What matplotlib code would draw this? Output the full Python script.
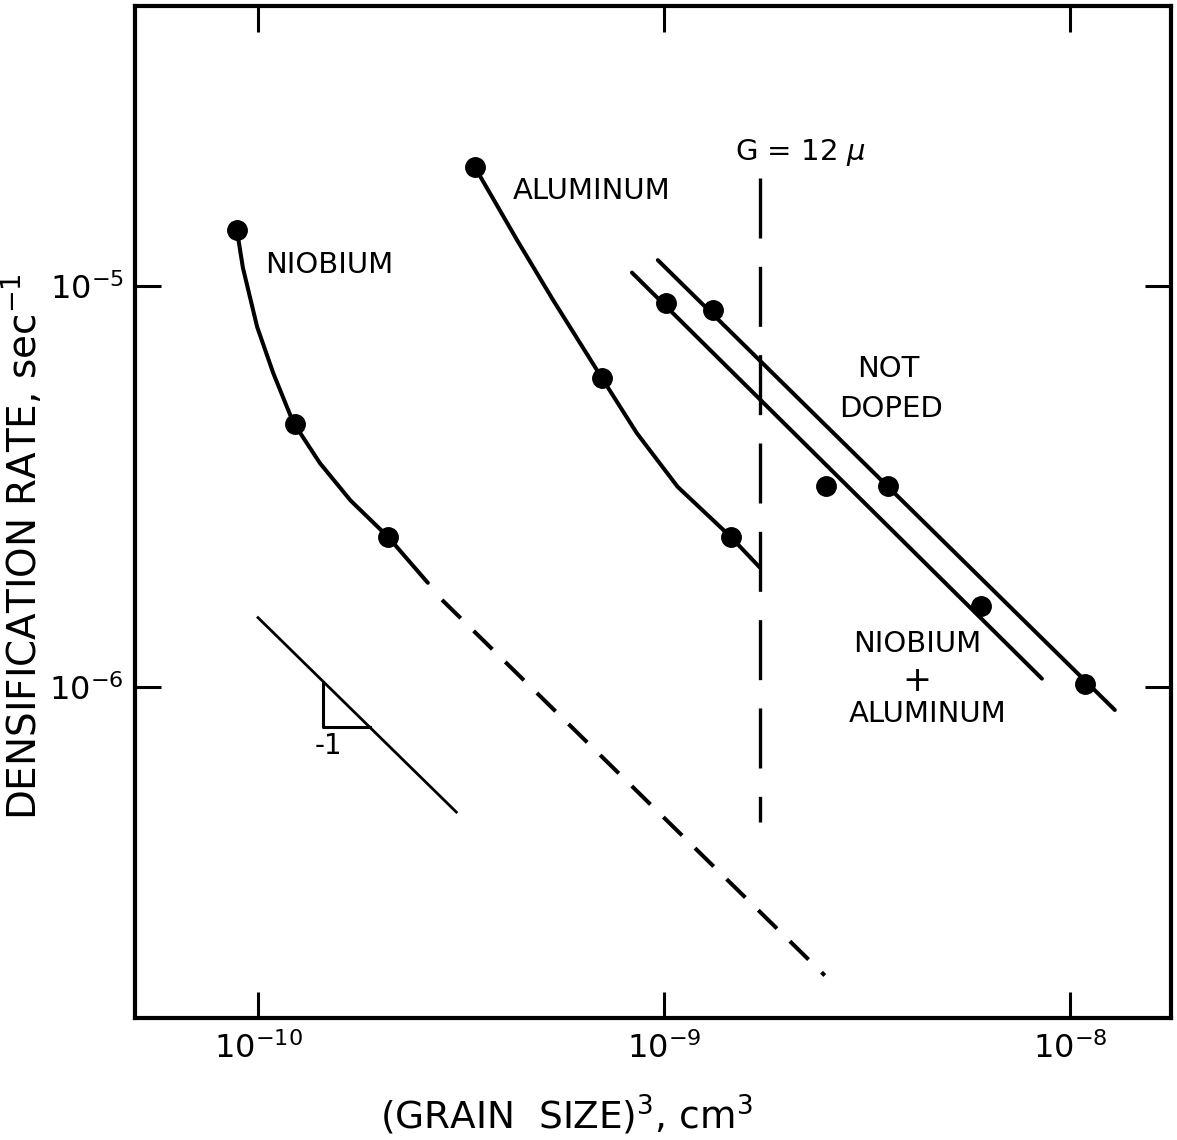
import matplotlib
matplotlib.use("Agg")
import matplotlib.pyplot as plt
from matplotlib.ticker import NullLocator

# Niobium doped: measured points and hand-drawn curve through them
nb_x = [8.87e-11, 1.23e-10, 2.09e-10]
nb_y = [1.38e-5, 4.53e-6, 2.37e-6]
nb_curve_x = [8.87e-11, 9.18e-11, 9.95e-11, 1.09e-10, 1.22e-10, 1.42e-10, 1.69e-10, 2.09e-10, 2.62e-10]
nb_curve_y = [1.38e-5, 1.11e-5, 7.91e-6, 6.07e-6, 4.58e-6, 3.62e-6, 2.92e-6, 2.37e-6, 1.82e-6]
nb_ext_x = [2.84e-10, 2.49e-9]
nb_ext_y = [1.65e-6, 1.91e-7]

# Aluminum doped
al_x = [3.42e-10, 7.03e-10, 1.46e-9]
al_y = [1.98e-5, 5.90e-6, 2.37e-6]
al_curve_x = [3.42e-10, 4.35e-10, 5.33e-10, 6.53e-10, 7.03e-10, 8.57e-10, 1.08e-9, 1.46e-9, 1.72e-9]
al_curve_y = [1.98e-5, 1.30e-5, 9.23e-6, 6.65e-6, 5.90e-6, 4.30e-6, 3.16e-6, 2.37e-6, 1.99e-6]

# Not doped
nd_x = [1.32e-9, 3.56e-9, 1.09e-8]
nd_y = [8.71e-6, 3.17e-6, 1.02e-6]
nd_line_x = [9.66e-10, 1.29e-8]
nd_line_y = [1.16e-5, 8.77e-7]

# Niobium + aluminum
nbal_x = [1.01e-9, 2.51e-9, 6.04e-9]
nbal_y = [9.08e-6, 3.17e-6, 1.59e-6]
nbal_line_x = [8.34e-10, 8.53e-9]
nbal_line_y = [1.08e-5, 1.05e-6]

# slope -1 guide and its triangle
slope_x = [1.0e-10, 3.08e-10]
slope_y = [1.49e-6, 4.88e-7]
tri_x = [1.445e-10, 1.445e-10, 1.89e-10]
tri_y = [1.03e-6, 7.94e-7, 7.94e-7]

# grain size G = 12 micron -> G^3 in cm^3
g_cm = 12e-4
g_line_y = [1.86e-5, 4.60e-7]

x_ticks = [1e-10, 1e-9, 1e-8]
x_ticklabels = [r'$10^{-10}$', r'$10^{-9}$', r'$10^{-8}$']
y_ticks = [1e-6, 1e-5]
y_ticklabels = [r'$10^{-6}$', r'$10^{-5}$']

fig = plt.figure(figsize=(11.77, 11.40), dpi=100)
ax = fig.add_axes([0.1147, 0.1070, 0.8802, 0.8877])
ax.set_xscale('log')
ax.set_yscale('log')
ax.set_xlim(10 ** -10.303, 10 ** -7.751)
ax.set_ylim(10 ** -6.825, 10 ** -4.302)

lw = 2.9
ms = 14

ax.plot(nb_curve_x, nb_curve_y, color='black', lw=lw, solid_capstyle='round', solid_joinstyle='round')
ax.plot(nb_ext_x, nb_ext_y, color='black', lw=lw, linestyle=(0, (6.5, 4.5)))
ax.plot(nb_x, nb_y, 'o', color='black', ms=ms)

ax.plot(al_curve_x, al_curve_y, color='black', lw=lw, solid_capstyle='round', solid_joinstyle='round')
ax.plot(al_x, al_y, 'o', color='black', ms=ms)

ax.plot(nd_line_x, nd_line_y, color='black', lw=lw, solid_capstyle='round')
ax.plot(nd_x, nd_y, 'o', color='black', ms=ms)
ax.plot(nbal_line_x, nbal_line_y, color='black', lw=lw, solid_capstyle='round')
ax.plot(nbal_x, nbal_y, 'o', color='black', ms=ms)

ax.plot(slope_x, slope_y, color='black', lw=2.0)
ax.plot(tri_x, tri_y, color='black', lw=2.2)

g_cube = g_cm ** 3
ax.plot([g_cube, g_cube], g_line_y, color='black', lw=2.4, linestyle=(0, (18, 8.5)))

# annotations
fs = 21
ax.text(1.50e-10, 1.13e-5, 'NIOBIUM', fontsize=fs, ha='center', va='center')
ax.text(6.65e-10, 1.73e-5, 'ALUMINUM', fontsize=fs, ha='center', va='center')
ax.text(1.50e-9, 2.15e-5, r'G = 12 $\mu$', fontsize=fs, ha='left', va='center')
ax.text(3.58e-9, 6.21e-6, 'NOT', fontsize=fs, ha='center', va='center')
ax.text(3.62e-9, 4.93e-6, 'DOPED', fontsize=fs, ha='center', va='center')
ax.text(4.20e-9, 1.28e-6, 'NIOBIUM', fontsize=fs, ha='center', va='center')
ax.text(4.20e-9, 1.035e-6, '+', fontsize=fs + 4, ha='center', va='center')
ax.text(4.47e-9, 8.57e-7, 'ALUMINUM', fontsize=fs, ha='center', va='center')
ax.text(1.49e-10, 7.13e-7, '-1', fontsize=fs - 1, ha='center', va='center')

ax.set_xticks(x_ticks)
ax.set_xticklabels(x_ticklabels)
ax.set_yticks(y_ticks)
ax.set_yticklabels(y_ticklabels)
ax.xaxis.set_minor_locator(NullLocator())
ax.yaxis.set_minor_locator(NullLocator())
ax.tick_params(which='major', direction='in', length=19, width=2.2,
               top=True, right=True, labelsize=23)
ax.tick_params(axis='x', pad=10)
ax.tick_params(axis='y', pad=8)

for s in ax.spines.values():
    s.set_linewidth(3)

ax.set_xlabel(r'(GRAIN  SIZE)$^3$, cm$^3$', fontsize=27, va='center')
ax.xaxis.set_label_coords(0.416, -0.096)
ax.set_ylabel(r'DENSIFICATION RATE, sec$^{-1}$', fontsize=28, va='center')
ax.yaxis.set_label_coords(-0.109, 0.466)

fig.savefig('out.png', dpi=100)
